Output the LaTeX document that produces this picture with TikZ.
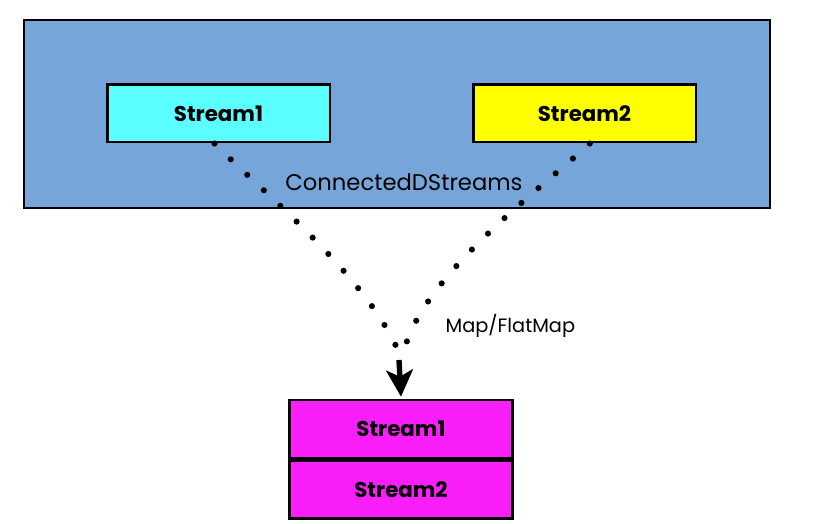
\documentclass[tikz,border=0pt]{standalone}
\usepackage{fontspec}
\setmainfont{Poppins}
\usetikzlibrary{arrows.meta,positioning}
\definecolor{outerblue}{RGB}{118,165,217}
\definecolor{cyanbox}{RGB}{92,255,255}
\definecolor{yellowbox}{RGB}{255,255,0}
\definecolor{magentabox}{RGB}{250,30,250}
\tikzset{
  streambox/.style={draw=black, line width=2pt, minimum width=167pt, minimum height=43pt, inner sep=0pt, font=\fontsize{16}{19}\selectfont\bfseries},
  lowbox/.style={streambox, minimum height=43.5pt},
  dotline/.style={line width=4.6pt, line cap=round, dash pattern=on 0pt off 17pt},
}
\begin{document}
\begin{tikzpicture}[x=0.75pt,y=-0.75pt]
\useasboundingbox (0,0) rectangle (819,524);
\node[draw=black, line width=2pt, fill=outerblue, minimum width=559.5pt, minimum height=141pt, inner sep=0pt] (outer) at (397,114) {};
\node[streambox, fill=cyanbox] (s1) at (218.5,113.5) {Stream1};
\node[streambox, fill=yellowbox] (s2) at (584.5,113.5) {Stream2};
\node[lowbox, fill=magentabox] (b1) at (401,429) {Stream1};
\node[lowbox, fill=magentabox, anchor=north] (b2) at (b1.south) {Stream2};
\coordinate (m) at (396,346);
\coordinate (m2) at (406,344);
\coordinate (tipstart) at (399,360);
\draw[dotline] ([xshift=-3pt]s1.south) .. controls (255,185) and (360,270) .. (m);
\draw[dotline] ([xshift=4pt]s2.south) .. controls (545,185) and (430,270) .. (m2);
\node[font=\fontsize{17}{20}\selectfont] (cds) at (404,182) {ConnectedDStreams};
\draw[line width=4pt, -{Stealth[length=20pt 0 0,width=20pt 0 0,inset=5pt 0]}] (tipstart) -- ([yshift=1.5pt]b1.north);
\node[font=\fontsize{14.5}{17}\selectfont, anchor=west] (mf) at (441,326) {Map/FlatMap};
\end{tikzpicture}
\end{document}
